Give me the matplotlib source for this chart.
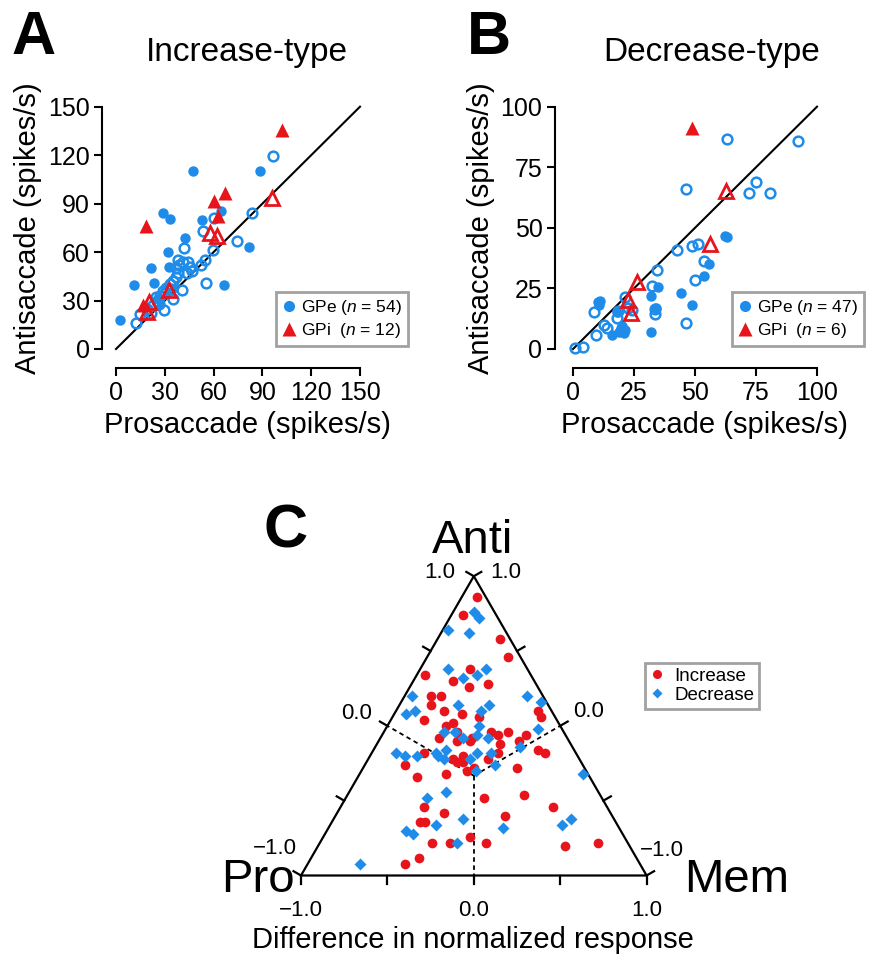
import numpy as np
import matplotlib.pyplot as plt
from matplotlib.lines import Line2D

plt.rcParams['font.family'] = ['Liberation Sans', 'DejaVu Sans']
plt.rcParams['mathtext.fontset'] = 'custom'
plt.rcParams['mathtext.it'] = 'Liberation Sans:italic'
plt.rcParams['mathtext.rm'] = 'Liberation Sans'

BLUE = '#1E8CE8'
RED = '#E8141C'

# ---------------- Panel A : increase-type (spikes/s) ----------------
a_gpe_fill_pro = [47.5, 88.4, 28.9, 33.1, 52.7, 64.7, 42.4, 81.5, 32.0, 21.7,
                  32.7, 11.0, 23.4, 66.5, 2.7, 26.0]
a_gpe_fill_anti = [110.3, 110.0, 84.2, 80.5, 79.7, 85.5, 68.7, 63.0, 60.3, 50.0,
                   51.0, 39.8, 40.6, 39.7, 17.8, 31.0]
a_gpe_open_pro = [96.7, 83.3, 53.7, 60.5, 74.4, 59.5, 54.8, 41.7, 38.4, 41.0,
                  44.0, 43.4, 52.3, 55.2, 36.6, 35.1, 29.0, 40.3, 35.1, 29.3,
                  21.3, 12.4, 14.5, 38.0, 33.0, 31.0, 27.0, 25.0, 23.0, 37.0,
                  30.0, 24.5, 19.0, 39.0, 45.5, 34.0, 26.5, 47.0]
a_gpe_open_anti = [119.7, 84.4, 73.0, 81.0, 66.8, 61.0, 55.2, 62.7, 55.2, 54.0,
                   54.0, 46.9, 52.0, 41.1, 44.4, 42.3, 36.1, 36.5, 30.9, 24.1,
                   22.0, 15.8, 21.6, 47.0, 40.0, 38.0, 33.0, 30.0, 27.0, 50.0,
                   34.5, 32.5, 25.0, 52.0, 50.5, 37.0, 28.0, 48.5]
a_gpi_fill_pro = [101.9, 66.8, 60.3, 63.0, 18.2, 16.5]
a_gpi_fill_anti = [135.7, 96.6, 91.5, 82.1, 75.9, 27.4]
a_gpi_open_pro = [57.9, 62.0, 96.1, 32.7, 19.0, 20.0]
a_gpi_open_anti = [72.0, 69.7, 93.2, 36.5, 22.6, 29.4]

# ---------------- Panel B : decrease-type (spikes/s) ----------------
b_gpe_fill_pro = [62.4, 63.1, 55.8, 53.8, 34.8, 44.2, 31.8, 48.6, 10.3, 10.6,
                  19.5, 21.2, 20.9, 16.0, 32.1, 18.2, 20.0, 34.0, 19.0, 11.0]
b_gpe_fill_anti = [46.8, 46.2, 34.9, 30.3, 25.4, 23.0, 21.7, 18.2, 19.2, 18.3,
                   8.5, 7.8, 6.4, 5.7, 7.1, 15.2, 9.5, 17.0, 7.0, 19.8]
b_gpe_open_pro = [63.0, 92.3, 46.5, 75.0, 72.0, 80.8, 42.8, 48.7, 51.4, 53.5,
                  50.1, 34.6, 32.5, 21.5, 8.8, 33.5, 33.5, 18.1, 12.6, 14.0,
                  9.6, 46.2, 1.0, 4.1, 24.0, 18.5, 22.5]
b_gpe_open_anti = [86.5, 86.0, 66.1, 68.9, 64.4, 64.4, 40.7, 42.5, 43.5, 36.5,
                   28.6, 32.4, 26.1, 21.3, 15.4, 16.4, 14.3, 13.0, 9.9, 8.5,
                   5.7, 10.6, 0.6, 1.0, 16.0, 15.5, 17.0]
b_gpi_fill_pro = [48.7]
b_gpi_fill_anti = [91.4]
b_gpi_open_pro = [62.7, 56.2, 26.3, 22.7, 23.6]
b_gpi_open_anti = [65.4, 43.2, 27.8, 20.3, 14.8]

# ---------------- Panel C : ternary (Mem - Pro difference, Anti share) ----------------
inc_mem_pro = [0.02, -0.06, 0.15, 0.20, -0.28, -0.12, -0.02, -0.03, 0.08, -0.25,
               -0.19, -0.25, -0.17, -0.07, -0.29, -0.16, -0.12, 0.03, 0.37, 0.39,
               -0.20, -0.10, -0.10, -0.02, -0.01, 0.10, 0.14, 0.20, 0.30, 0.15,
               0.26, -0.29, 0.37, 0.41, 0.14, 0.08, -0.06, -0.12, -0.10, -0.06,
               -0.04, 0.00, -0.40, 0.25, -0.33, -0.16, 0.06, 0.29, -0.29, -0.17,
               0.18, 0.46, -0.31, -0.28, -0.02, -0.24, -0.14, 0.07, 0.53, 0.72,
               -0.32, -0.40]
inc_anti = [0.93, 0.87, 0.79, 0.73, 0.67, 0.65, 0.69, 0.63, 0.64, 0.60,
            0.60, 0.57, 0.55, 0.54, 0.52, 0.50, 0.51, 0.53, 0.55, 0.53,
            0.46, 0.48, 0.45, 0.45, 0.46, 0.48, 0.47, 0.48, 0.47, 0.44,
            0.45, 0.41, 0.42, 0.41, 0.41, 0.39, 0.40, 0.39, 0.38, 0.38,
            0.35, 0.36, 0.37, 0.36, 0.33, 0.34, 0.26, 0.27, 0.23, 0.21,
            0.20, 0.23, 0.18, 0.18, 0.13, 0.11, 0.11, 0.11, 0.10, 0.11,
            0.06, 0.04]
dec_mem_pro = [0.00, 0.03, -0.15, -0.03, -0.15, -0.06, 0.02, 0.07, -0.36, -0.39,
               -0.34, -0.09, 0.04, 0.09, 0.31, 0.39, 0.37, -0.17, -0.11, -0.06,
               0.03, 0.02, 0.08, 0.27, -0.45, -0.40, -0.33, -0.22, -0.21, -0.16,
               -0.17, 0.10, 0.02, 0.12, -0.02, 0.01, 0.63, -0.16, -0.27, -0.06,
               -0.22, 0.17, -0.39, -0.35, 0.51, 0.56, -0.10, -0.66]
dec_anti = [0.88, 0.86, 0.82, 0.81, 0.69, 0.66, 0.67, 0.69, 0.60, 0.54,
            0.55, 0.57, 0.55, 0.57, 0.60, 0.58, 0.49, 0.48, 0.48, 0.46,
            0.50, 0.47, 0.46, 0.43, 0.41, 0.40, 0.40, 0.41, 0.40, 0.42,
            0.39, 0.41, 0.41, 0.37, 0.39, 0.35, 0.34, 0.28, 0.26, 0.19,
            0.17, 0.16, 0.15, 0.14, 0.17, 0.19, 0.11, 0.04]

W, H = 875, 963
fig = plt.figure(figsize=(W / 100, H / 100), dpi=100)


def px_axes(x0, x1, y_top, y_bot):
    # axes rectangle from pixel coordinates of the data range
    return fig.add_axes([x0 / W, 1 - y_bot / H, (x1 - x0) / W, (y_bot - y_top) / H])


def scatter_panel(ax, lim, ticks, gpe_fill, gpe_open, gpi_fill, gpi_open, left_off):
    ax.plot([0, lim], [0, lim], color='k', lw=1.5, zorder=1, clip_on=False)
    ax.plot(*gpe_fill, 'o', ms=7.5, color=BLUE, mec='none', zorder=3, clip_on=False)
    ax.plot(*gpe_open, 'o', ms=7, mfc='none', mec=BLUE, mew=1.8, zorder=3, clip_on=False)
    ax.plot(*gpi_fill, '^', ms=10, color=RED, mec='none', zorder=4, clip_on=False)
    ax.plot(*gpi_open, '^', ms=9.5, mfc='none', mec=RED, mew=2, zorder=4, clip_on=False)
    ax.set_xlim(0, lim)
    ax.set_ylim(0, lim)
    ax.set_xticks(ticks)
    ax.set_yticks(ticks)
    for s in ['top', 'right']:
        ax.spines[s].set_visible(False)
    ax.spines['left'].set_position(('outward', left_off))
    ax.spines['bottom'].set_position(('outward', 14))
    for s in ['left', 'bottom']:
        ax.spines[s].set_linewidth(1.5)
    ax.tick_params(direction='out', length=6, width=1.5, labelsize=18, pad=3)
    ax.set_xlabel('Prosaccade (spikes/s)', fontsize=21)
    ax.set_ylabel('Antisaccade (spikes/s)', fontsize=21, labelpad=4)
    ax.xaxis.set_label_coords(0.5 + 9 / 244, -0.255)
    ax.patch.set_visible(False)


axA = px_axes(116, 360, 106.7, 349)
scatter_panel(axA, 150, [0, 30, 60, 90, 120, 150],
              (a_gpe_fill_pro, a_gpe_fill_anti), (a_gpe_open_pro, a_gpe_open_anti),
              (a_gpi_fill_pro, a_gpi_fill_anti), (a_gpi_open_pro, a_gpi_open_anti), 10)
axB = px_axes(573, 817, 106.7, 349)
scatter_panel(axB, 100, [0, 25, 50, 75, 100],
              (b_gpe_fill_pro, b_gpe_fill_anti), (b_gpe_open_pro, b_gpe_open_anti),
              (b_gpi_fill_pro, b_gpi_fill_anti), (b_gpi_open_pro, b_gpi_open_anti), 13)

legend_specs = [(54, len(a_gpi_fill_pro) + len(a_gpi_open_pro), 276),
                (47, len(b_gpi_fill_pro) + len(b_gpi_open_pro), 732)]
for n_e, n_i, x0 in legend_specs:
    handles = [Line2D([], [], ls='none', marker='o', ms=8, color=BLUE, mec='none'),
               Line2D([], [], ls='none', marker='^', ms=10, color=RED, mec='none')]
    leg = fig.legend(handles, [f'GPe ($n$ = {n_e})', f'GPi  ($n$ = {n_i})'],
                     loc='upper left', bbox_to_anchor=(x0 / W, 1 - 292 / H),
                     fontsize=12.5, frameon=True, fancybox=False, borderaxespad=0,
                     handlelength=0.8, handletextpad=0.3, borderpad=0.35,
                     labelspacing=0.25)
    leg.get_frame().set_edgecolor('#8a8a8a')
    leg.get_frame().set_linewidth(2)

fig.text(247 / W, 1 - 52 / H, 'Increase-type', fontsize=24, ha='center', va='center')
fig.text(712 / W, 1 - 52 / H, 'Decrease-type', fontsize=24, ha='center', va='center')
fig.text(34 / W, 1 - 38 / H, 'A', fontsize=44, fontweight='bold', ha='center', va='center')
fig.text(489 / W, 1 - 38 / H, 'B', fontsize=44, fontweight='bold', ha='center', va='center')

# ---------------- Panel C ----------------
S3 = np.sqrt(3)
axC = px_axes(301, 646.6, 576.2, 875.5)
axC.set_xlim(-1, 1)
axC.set_ylim(0, S3)
axC.axis('off')

P = np.array([-1.0, 0.0])
A = np.array([0.0, S3])
M = np.array([1.0, 0.0])
tri = np.array([P, A, M, P])
axC.plot(tri[:, 0], tri[:, 1], color='k', lw=1.6, clip_on=False, zorder=2)

cen = (P + A + M) / 3
for mid in [(P + A) / 2, (A + M) / 2, (P + M) / 2]:
    axC.plot([cen[0], mid[0]], [cen[1], mid[1]], color='k', lw=1.3,
             ls=(0, (2.5, 2)), zorder=1)

tick_vals = [-1.0, -0.5, 0.0, 0.5, 1.0]
tl = 0.05
edges = [(P, A, np.array([-S3 / 2, 0.5])),
         (M, A, np.array([S3 / 2, 0.5])),
         (P, M, np.array([0.0, -1.0]))]
for start, end, nrm in edges:
    for v in tick_vals:
        pt = start + (v + 1) / 2 * (end - start)
        axC.plot([pt[0], pt[0] + tl * nrm[0]], [pt[1], pt[1] + tl * nrm[1]],
                 color='k', lw=1.6, clip_on=False)

lab_kw = dict(textcoords='offset points', fontsize=16, va='center', annotation_clip=False)
axC.annotate('1.0', A, xytext=(-13, 3), ha='right', **lab_kw)
axC.annotate('0.0', (P + A) / 2, xytext=(-11, 9), ha='right', **lab_kw)
axC.annotate('\u22121.0', P, xytext=(-3, 19.5), ha='right', **lab_kw)
axC.annotate('1.0', A, xytext=(12, 3), ha='left', **lab_kw)
axC.annotate('0.0', (A + M) / 2, xytext=(9, 10), ha='left', **lab_kw)
axC.annotate('\u22121.0', M, xytext=(-5, 18), ha='left', **lab_kw)
for v, lab in [(-1.0, '\u22121.0'), (0.0, '0.0'), (1.0, '1.0')]:
    axC.annotate(lab, (v, 0), xytext=(0, -25), ha='center', **lab_kw)

inc_x = np.array(inc_mem_pro)
inc_y = np.array(inc_anti) * S3
dec_x = np.array(dec_mem_pro)
dec_y = np.array(dec_anti) * S3
axC.plot(inc_x, inc_y, 'o', ms=7, color=RED, mec='none', zorder=3, clip_on=False)
axC.plot(dec_x, dec_y, 'D', ms=5.8, color=BLUE, mec='none', zorder=3, clip_on=False)

handles = [Line2D([], [], ls='none', marker='o', ms=6.5, color=RED, mec='none'),
           Line2D([], [], ls='none', marker='D', ms=5.5, color=BLUE, mec='none')]
legC = fig.legend(handles, ['Increase', 'Decrease'], loc='upper left',
                  bbox_to_anchor=(645 / W, 1 - 663 / H), fontsize=13.5, frameon=True,
                  fancybox=False, borderaxespad=0, handlelength=0.8,
                  handletextpad=0.5, borderpad=0.25, labelspacing=0.1)
legC.get_frame().set_edgecolor('#8a8a8a')
legC.get_frame().set_linewidth(2)

fig.text(473 / W, 1 - 541 / H, 'Anti', fontsize=34, ha='center', va='center')
fig.text(258 / W, 1 - 880 / H, 'Pro', fontsize=34, ha='center', va='center')
fig.text(737 / W, 1 - 880 / H, 'Mem', fontsize=34, ha='center', va='center')
fig.text(286 / W, 1 - 532 / H, 'C', fontsize=44, fontweight='bold', ha='center', va='center')
fig.text(473 / W, 1 - 940 / H, 'Difference in normalized response', fontsize=21,
         ha='center', va='center')

fig.savefig('out.png', dpi=100)
